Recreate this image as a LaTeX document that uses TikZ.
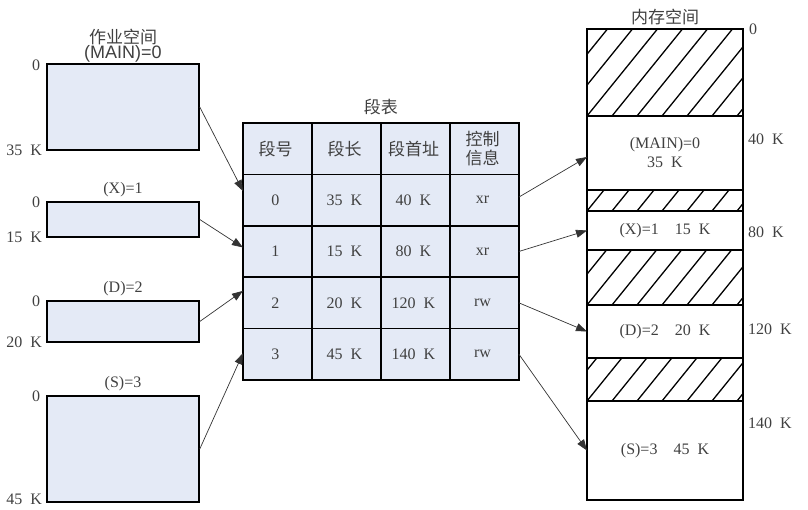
\documentclass[tikz,border=0pt]{standalone}
\usepackage{fontspec}
\setmainfont{Liberation Serif}
\newfontfamily\cjk{Noto Sans CJK SC}
\newfontfamily\arial{Liberation Sans}
\newcommand\zh{\cjk\fontsize{17}{19}\selectfont}
\usetikzlibrary{arrows.meta, positioning, matrix}
\definecolor{segfill}{RGB}{228,234,246}

\begin{document}
\begin{tikzpicture}[
    x=1pt, y=-1pt,
    font=\fontsize{16}{19}\selectfont,
    every node/.style={text=black!75},
    seg/.style={rectangle, draw=black, line width=1.5pt, fill=segfill,
                minimum width=152pt, inner sep=0pt},
    cell/.style={rectangle, draw=black, line width=1.5pt, fill=segfill, align=center,
                 anchor=center, minimum width=69pt, minimum height=51.4pt,
                 inner sep=1pt, outer sep=0pt},
    mem/.style={rectangle, draw=black, line width=1.2pt, fill=white, align=center,
                minimum width=156pt, inner sep=0pt, outer sep=0pt},
    hole/.style={mem},
    hatch/.style={draw=black, line width=1.3pt},
    arr/.style={-{Triangle[length=11pt, width=8pt]}, draw=black!80, line width=0.7pt},
    addr/.style={inner sep=1pt},
]
\useasboundingbox (0,0) rectangle (808,509);

% job space
\node[seg, minimum height=86pt]  (main) at (123,107)   {};
\node[seg, minimum height=35pt]  (segx) at (123,219.5) {};
\node[seg, minimum height=41pt]  (segd) at (123,321.5) {};
\node[seg, minimum height=106pt] (segs) at (123,449)   {};

\node[above=0pt of main, inner sep=1pt] (mainlbl) {\arial\fontsize{18}{20}\selectfont (MAIN)=0};
\node[above=-4pt of mainlbl] {\zh 作业空间};
\node[above=1pt of segx] {(X)=1};
\node[above=1pt of segd] {(D)=2};
\node[above=1pt of segs] {(S)=3};

\node[addr, anchor=east] at ([xshift=-5pt, yshift=-2pt]main.north west) {0};
\node[addr, anchor=east] at ([xshift=-3pt]main.south west) {35~~K};
\node[addr, anchor=east] at ([xshift=-5pt, yshift=-1pt]segx.north west) {0};
\node[addr, anchor=east] at ([xshift=-3pt]segx.south west) {15~~K};
\node[addr, anchor=east] at ([xshift=-5pt, yshift=-1pt]segd.north west) {0};
\node[addr, anchor=east] at ([xshift=-3pt]segd.south west) {20~~K};
\node[addr, anchor=east] at ([xshift=-5pt, yshift=-1pt]segs.north west) {0};
\node[addr, anchor=east] at ([xshift=-3pt, yshift=3pt]segs.south west) {45~~K};

% segment table
\matrix (tbl) [matrix of nodes, nodes={cell}, inner sep=0pt,
               column sep=-1.5pt, row sep=-1.5pt, anchor=north west,
               row 1/.style={nodes={font=\zh}}] at (242,122) {
  段号 & 段长 & 段首址 & \shortstack{控制\\信息} \\
  0 & 35~~K & 40~~K  & xr \\
  1 & 15~~K & 80~~K  & xr \\
  2 & 20~~K & 120~~K & rw \\
  3 & 45~~K & 140~~K & rw \\
};
\node[above=4pt of tbl] {\zh 段表};

% memory space
\node[hole, minimum height=87pt] (h0) at (665,72.5) {};
\node[mem,  minimum height=74pt, below=0pt of h0] (m0) {(MAIN)=0\\35~~K};
\node[hole, minimum height=21pt, below=0pt of m0] (h1) {};
\node[mem,  minimum height=39pt, below=0pt of h1] (m1) {(X)=1\quad 15~~K};
\node[hole, minimum height=55pt, below=0pt of m1] (h2) {};
\node[mem,  minimum height=53pt, below=0pt of h2] (m2) {(D)=2\quad 20~~K};
\node[hole, minimum height=43pt, below=0pt of m2] (h3) {};
\node[mem,  minimum height=99pt, below=0pt of h3] (m3) {(S)=3\quad 45~~K};
\node[above=1pt of h0] {\zh 内存空间};

% hatching of the free areas
\foreach \h in {h0,h1,h2,h3} {
  \begin{scope}
    \clip (\h.south west) rectangle (\h.north east);
    \foreach \i in {-5,...,7}
      \draw[hatch] ([xshift=\i*25pt]\h.south west) -- ++(100,-123.5);
  \end{scope}
}

\node[addr, anchor=west] at ([xshift=5pt]h0.north east) {0};
\node[addr, anchor=west] at ([xshift=4pt, yshift=-23pt]m0.north east) {40~~K};
\node[addr, anchor=west] at ([xshift=4pt, yshift=-21pt]m1.north east) {80~~K};
\node[addr, anchor=west] at ([xshift=4pt, yshift=-24pt]m2.north east) {120~~K};
\node[addr, anchor=west] at ([xshift=4pt, yshift=-22pt]m3.north east) {140~~K};

% connectors
\draw[arr] (main.east) -- ([yshift=9pt]tbl-2-1.west);
\draw[arr] (segx.east) -- ([yshift=4pt]tbl-3-1.west);
\draw[arr] (segd.east) -- ([yshift=12pt]tbl-4-1.west);
\draw[arr] (segs.east) -- ([yshift=1pt]tbl-5-1.west);

\draw[arr] ([yshift=3pt]tbl-2-4.east) -- ([yshift=-4pt]m0.west);
\draw[arr] (tbl-3-4.east) -- (m1.west);
\draw[arr] (tbl-4-4.east) -- (m2.west);
\draw[arr] (tbl-5-4.east) -- (m3.west);

\end{tikzpicture}
\end{document}
